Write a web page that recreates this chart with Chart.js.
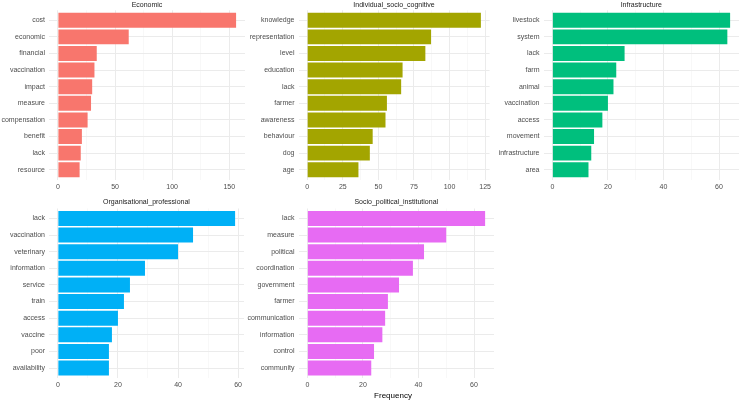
<!DOCTYPE html>
<html>
<head>
<meta charset="utf-8">
<script src="https://cdn.jsdelivr.net/npm/chart.js@4.4.0/dist/chart.umd.min.js"></script>
<style>
  body { margin: 0; background: #fff; }
  #wrap { position: relative; width: 740px; height: 401px; overflow: hidden; }
  canvas { position: absolute; }
  #xlab { position: absolute; left: 343px; width: 100px; top: 390px; text-align: center;
          font: 8px 'Liberation Sans', Arial, sans-serif; color: #000; line-height: 11px; }
</style>
</head>
<body>
<div id="wrap">
  <canvas id="c1"></canvas>
  <canvas id="c2"></canvas>
  <canvas id="c3"></canvas>
  <canvas id="c4"></canvas>
  <canvas id="c5"></canvas>
  <div id="xlab">Frequency</div>
</div>
<script>
const economicTerms = ['cost', 'economic', 'financial', 'vaccination', 'impact', 'measure', 'compensation', 'benefit', 'lack', 'resource'];
const economicFreq = [156, 62, 34, 32, 30, 29, 26, 21, 20, 19];

const cognitiveTerms = ['knowledge', 'representation', 'level', 'education', 'lack', 'farmer', 'awareness', 'behaviour', 'dog', 'age'];
const cognitiveFreq = [122, 87, 83, 67, 66, 56, 55, 46, 44, 36];

const infraTerms = ['livestock', 'system', 'lack', 'farm', 'animal', 'vaccination', 'access', 'movement', 'infrastructure', 'area'];
const infraFreq = [64, 63, 26, 23, 22, 20, 18, 15, 14, 13];

const orgTerms = ['lack', 'vaccination', 'veterinary', 'information', 'service', 'train', 'access', 'vaccine', 'poor', 'availability'];
const orgFreq = [59, 45, 40, 29, 24, 22, 20, 18, 17, 17];

const politicalTerms = ['lack', 'measure', 'political', 'coordination', 'government', 'farmer', 'communication', 'information', 'control', 'community'];
const politicalFreq = [64, 50, 42, 38, 33, 29, 28, 27, 24, 23];

const panelTitles = ['Economic', 'Individual_socio_cognitive', 'Infrastructure', 'Organisational_professional', 'Socio_political_institutional'];
const majorSteps = [50, 25, 20, 20, 20];

Chart.defaults.font.family = "'Liberation Sans', Arial, sans-serif";
Chart.defaults.font.size = 7;
Chart.defaults.color = '#4D4D4D';

// draws the facet strip title above each panel
const stripTitle = {
   id: 'stripTitle',
   afterDraw(chart, args, opts) {
      const { ctx, chartArea } = chart;
      ctx.save();
      ctx.font = "7px 'Liberation Sans', Arial, sans-serif";
      ctx.fillStyle = '#1A1A1A';
      ctx.textAlign = 'center';
      ctx.textBaseline = 'middle';
      ctx.fillText(opts.text, (chartArea.left + chartArea.right) / 2, opts.y);
      ctx.restore();
   }
};

function makePanel(id, box, labels, values, colour, title, major) {
   const cv = document.getElementById(id);
   cv.width = box.w;
   cv.height = box.h;
   cv.style.left = box.l + 'px';
   cv.style.top = box.t + 'px';
   const maxVal = Math.max(...values);

   new Chart(cv.getContext('2d'), {
      type: 'bar',
      data: {
         labels: labels,
         datasets: [{
            data: values,
            backgroundColor: colour,
            borderWidth: 0,
            barPercentage: 0.9,
            categoryPercentage: 1.0
         }]
      },
      plugins: [stripTitle],
      options: {
         indexAxis: 'y',
         responsive: false,
         animation: false,
         layout: { padding: { top: box.padTop, right: 0, left: 0, bottom: 0 } },
         plugins: {
            legend: { display: false },
            tooltip: { enabled: false },
            stripTitle: { text: title, y: box.titleY }
         },
         scales: {
            x: {
               type: 'linear',
               min: -0.05 * maxVal,
               max: 1.05 * maxVal,
               border: { display: false },
               grid: {
                  drawTicks: false,
                  color: c => (c.tick && c.tick.value % major === 0) ? '#EBEBEB' : '#F4F4F4',
                  lineWidth: c => (c.tick && c.tick.value % major === 0) ? 1 : 0.6
               },
               ticks: {
                  stepSize: major / 2,
                  includeBounds: false,
                  padding: 3,
                  maxRotation: 0,
                  autoSkip: false,
                  callback: v => (v % major === 0 ? v : '')
               },
               afterFit: s => { s.height = box.xh; }
            },
            y: {
               offset: true,
               border: { display: false },
               grid: { drawTicks: false, offset: false, color: '#EBEBEB', lineWidth: 1 },
               ticks: { padding: 4, autoSkip: false },
               afterFit: s => { s.width = box.yw; },
               // ggplot style discrete expansion of 0.6 on each side
               afterBuildTicks: s => {
                  s._startValue = -0.6;
                  s._valueRange = s.getLabels().length - 1 + 1.2;
               }
            }
         }
      }
   });
}

const topRow = { t: 0, h: 196, padTop: 10.3, xh: 16.3, titleY: 5 };
const botRow = { t: 196, h: 205, padTop: 12.5, xh: 23, titleY: 6.5 };

makePanel('c1', { ...topRow, l: 0, w: 245, yw: 49 }, economicTerms, economicFreq, '#F8766D', panelTitles[0], majorSteps[0]);
makePanel('c2', { ...topRow, l: 246, w: 248, yw: 52.5 }, cognitiveTerms, cognitiveFreq, '#A3A500', panelTitles[1], majorSteps[1]);
makePanel('c3', { ...topRow, l: 495, w: 244, yw: 48.5 }, infraTerms, infraFreq, '#00BF7D', panelTitles[2], majorSteps[2]);
makePanel('c4', { ...botRow, l: 0, w: 245, yw: 49 }, orgTerms, orgFreq, '#00B0F6', panelTitles[3], majorSteps[3]);
makePanel('c5', { ...botRow, l: 246, w: 248, yw: 52.5 }, politicalTerms, politicalFreq, '#E76BF3', panelTitles[4], majorSteps[4]);
</script>
</body>
</html>
